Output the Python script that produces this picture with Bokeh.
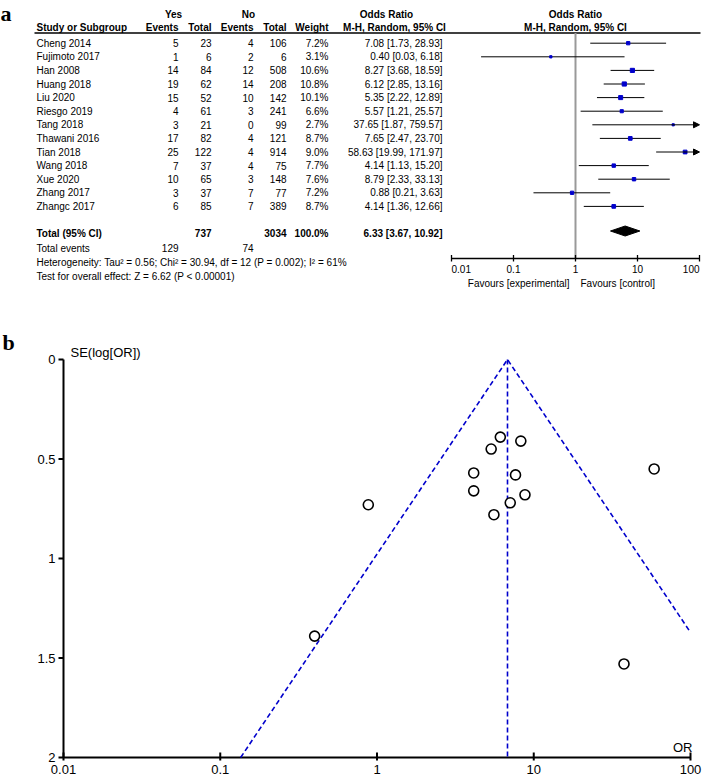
import math
from bokeh.plotting import figure
from bokeh.models import Range1d, LogScale, LinearScale, ColumnDataSource, Arrow, NormalHead
from bokeh.core.properties import value
from bokeh.embed import file_html
from bokeh.resources import INLINE

# ---------------- data ----------------
studies = ["Cheng 2014", "Fujimoto 2017", "Han 2008", "Huang 2018", "Liu 2020", "Riesgo 2019",
           "Tang 2018", "Thawani 2016", "Tian 2018", "Wang 2018", "Xue 2020", "Zhang 2017", "Zhangc 2017"]
yes_events = [5, 1, 14, 19, 15, 4, 3, 17, 25, 7, 10, 3, 6]
yes_total = [23, 6, 84, 62, 52, 61, 21, 82, 122, 37, 65, 37, 85]
no_events = [4, 2, 12, 14, 10, 3, 0, 4, 4, 4, 3, 7, 7]
no_total = [106, 6, 508, 208, 142, 241, 99, 121, 914, 75, 148, 77, 389]
weights = [7.2, 3.1, 10.6, 10.8, 10.1, 6.6, 2.7, 8.7, 9.0, 7.7, 7.6, 7.2, 8.7]
odds = [7.08, 0.40, 8.27, 6.12, 5.35, 5.57, 37.65, 7.65, 58.63, 4.14, 8.79, 0.88, 4.14]
ci_low = [1.73, 0.03, 3.68, 2.85, 2.22, 1.21, 1.87, 2.47, 19.99, 1.13, 2.33, 0.21, 1.36]
ci_high = [28.93, 6.18, 18.59, 13.16, 12.89, 25.57, 759.57, 23.70, 171.97, 15.20, 33.13, 3.63, 12.66]
funnel_se = [0.72, 1.39, 0.41, 0.39, 0.45, 0.78, 1.53, 0.58, 0.55, 0.66, 0.68, 0.73, 0.57]

total_or, total_low, total_high = 6.33, 3.67, 10.92
total_yes_events, total_yes, total_no_events, total_no = 129, 737, 74, 3034
heterogeneity_text = "Heterogeneity: Tau\u00b2 = 0.56; Chi\u00b2 = 30.94, df = 12 (P = 0.002); I\u00b2 = 61%"
overall_text = "Test for overall effect: Z = 6.62 (P < 0.00001)"

forest_ticks = [0.01, 0.1, 1, 10, 100]
forest_tick_labels = ["0.01", "0.1", "1", "10", "100"]

funnel_center = 6.8
funnel_x_ticks = [0.01, 0.1, 1, 10, 100]
funnel_x_labels = ["0.01", "0.1", "1", "10", "100"]
funnel_y_ticks = [0, 0.5, 1, 1.5, 2]
funnel_y_labels = ["0", "0.5", "1", "1.5", "2"]

# ---------------- layout constants (canvas pixels) ----------------
W, H = 712, 776
FONT = "Liberation Sans"
ROW0, ROW_H = 42.7, 13.6            # first study row, row pitch
FX0, FX1 = 451.0, 699.0             # forest axis 0.01 .. 100
GX0, GX1 = 63.0, 690.0              # funnel x axis 0.01 .. 100
GY0, GY1 = 359.0, 757.0             # funnel y axis 0 .. 2


def row_of(py):
    return (py - ROW0) / ROW_H


p = figure(width=W, height=H, output_backend="svg", toolbar_location=None,
           x_range=Range1d(0, W), y_range=Range1d(H, 0),
           x_axis_location=None, y_axis_location=None, min_border=0)
p.grid.visible = False
p.outline_line_color = None

# forest scales
f_lo, f_hi = forest_ticks[0], forest_ticks[-1]
f_dec = (FX1 - FX0) / math.log10(f_hi / f_lo)
p.extra_x_ranges["or"] = Range1d(f_lo * 10 ** (-FX0 / f_dec), f_hi * 10 ** ((W - FX1) / f_dec))
p.extra_x_scales["or"] = LogScale()
p.extra_y_ranges["rows"] = Range1d(row_of(H), row_of(0))
p.extra_y_scales["rows"] = LinearScale()

# funnel scales
g_lo, g_hi = funnel_x_ticks[0], funnel_x_ticks[-1]
g_dec = (GX1 - GX0) / math.log10(g_hi / g_lo)
se_max = funnel_y_ticks[-1]
g_pu = (GY1 - GY0) / se_max
p.extra_x_ranges["fx"] = Range1d(g_lo * 10 ** (-GX0 / g_dec), g_hi * 10 ** ((W - GX1) / g_dec))
p.extra_x_scales["fx"] = LogScale()
p.extra_y_ranges["fy"] = Range1d((H - GY0) / g_pu, -GY0 / g_pu)
p.extra_y_scales["fy"] = LinearScale()


def gx(px):
    return g_lo * 10 ** ((px - GX0) / g_dec)


def gy(py):
    return (py - GY0) / g_pu


def txt(x, y, s, align="left", bold=False, size="10px", font=FONT, baseline="middle",
        yr="rows", **kw):
    p.text(x=[x], y=[y], text=[s], text_align=align, text_baseline=baseline,
           text_font=value(font), text_font_size=size, y_range_name=yr,
           text_font_style="bold" if bold else "normal", text_color="black", **kw)


# ================= panel a =================
COL_STUDY, COL_YE, COL_YT, COL_NE, COL_NT, COL_W, COL_OR = 36, 178, 211, 253, 286, 328, 442

h1, h2 = row_of(14), row_of(27)
txt(173, h1, "Yes", "center", True)
txt(248, h1, "No", "center", True)
txt(386, h1, "Odds Ratio", "center", True)
txt(1, h1, "Odds Ratio", "center", True, x_range_name="or")
txt(COL_STUDY, h2, "Study or Subgroup", "left", True)
txt(COL_YE, h2, "Events", "right", True)
txt(COL_YT, h2, "Total", "right", True)
txt(COL_NE, h2, "Events", "right", True)
txt(COL_NT, h2, "Total", "right", True)
txt(COL_W, h2, "Weight", "right", True)
txt(394, h2, "M-H, Random, 95% CI", "center", True)
txt(1, h2, "M-H, Random, 95% CI", "center", True, x_range_name="or")
UL = row_of(32.5)
p.segment(x0=[34], x1=[700], y0=[UL], y1=[UL], y_range_name="rows", line_color="black", line_width=1.5)

rows = list(range(len(studies)))
tbl = ColumnDataSource(dict(
    row=rows, study=studies,
    ye=[str(v) for v in yes_events], yt=[str(v) for v in yes_total],
    ne=[str(v) for v in no_events], nt=[str(v) for v in no_total],
    wt=[f"{w:.1f}%" for w in weights],
    ort=[f"{o:.2f} [{l:.2f}, {h:.2f}]" for o, l, h in zip(odds, ci_low, ci_high)],
))
for col, x, al in [("study", COL_STUDY, "left"), ("ye", COL_YE, "right"), ("yt", COL_YT, "right"),
                   ("ne", COL_NE, "right"), ("nt", COL_NT, "right"), ("wt", COL_W, "right"),
                   ("ort", COL_OR, "right")]:
    p.text(x=x, y="row", text=col, source=tbl, text_align=al, text_baseline="middle",
           y_range_name="rows", text_font=value(FONT), text_font_size="10px", text_color="black")

TOTAL_ROW = row_of(232.5)
txt(COL_STUDY, TOTAL_ROW, "Total (95% CI)", "left", True)
txt(COL_YT, TOTAL_ROW, str(total_yes), "right", True)
txt(COL_NT, TOTAL_ROW, str(total_no), "right", True)
txt(COL_W, TOTAL_ROW, f"{sum(weights):.1f}%", "right", True)
txt(COL_OR, TOTAL_ROW, f"{total_or:.2f} [{total_low:.2f}, {total_high:.2f}]", "right", True)
EV_ROW = row_of(247.7)
txt(COL_STUDY, EV_ROW, "Total events")
txt(COL_YE, EV_ROW, str(total_yes_events), "right")
txt(COL_NE, EV_ROW, str(total_no_events), "right")
txt(COL_STUDY, row_of(261.7), heterogeneity_text)
txt(COL_STUDY, row_of(275.7), overall_text)

AXIS_ROW = row_of(258)
p.segment(x0=[1], x1=[1], y0=[UL], y1=[AXIS_ROW], x_range_name="or", y_range_name="rows",
          line_color="#999999", line_width=2)

inside = [i for i in rows if ci_high[i] <= f_hi]
clipped = [i for i in rows if ci_high[i] > f_hi]
p.segment(x0=[ci_low[i] for i in inside], x1=[ci_high[i] for i in inside],
          y0=inside, y1=inside, x_range_name="or", y_range_name="rows", line_color="black", line_width=1)
arr_src = ColumnDataSource(dict(x0=[ci_low[i] for i in clipped], x1=[f_hi] * len(clipped), row=clipped))
p.add_layout(Arrow(end=NormalHead(size=6, fill_color="black", line_color="black"),
                   x_start="x0", y_start="row", x_end="x1", y_end="row", source=arr_src,
                   x_range_name="or", y_range_name="rows", line_color="black", line_width=1))
sq = ColumnDataSource(dict(orv=odds, row=rows, sz=[1.5 + 0.25 * w for w in weights]))
p.scatter(x="orv", y="row", size="sz", marker="square", source=sq, x_range_name="or",
          y_range_name="rows", fill_color="#0000CC", line_color="#0000CC")
dh = 5 / ROW_H
DIA_ROW = row_of(230.5)
p.patch(x=[total_low, total_or, total_high, total_or],
        y=[DIA_ROW, DIA_ROW - dh, DIA_ROW, DIA_ROW + dh],
        x_range_name="or", y_range_name="rows", fill_color="black", line_color="black")

p.segment(x0=[f_lo], x1=[f_hi], y0=[AXIS_ROW], y1=[AXIS_ROW],
          x_range_name="or", y_range_name="rows", line_color="black", line_width=1.3)
p.segment(x0=forest_ticks, x1=forest_ticks, y0=[row_of(254.5)] * 5, y1=[row_of(261)] * 5,
          x_range_name="or", y_range_name="rows", line_color="black", line_width=1.3)
TL_ROW = row_of(268.5)
txt(forest_ticks[0], TL_ROW, forest_tick_labels[0], "left", x_range_name="or")
p.text(x=forest_ticks[1:-1], y=[TL_ROW] * 3, text=forest_tick_labels[1:-1], x_range_name="or",
       y_range_name="rows", text_align="center", text_baseline="middle", text_font=value(FONT),
       text_font_size="10px", text_color="black")
txt(forest_ticks[-1], TL_ROW, forest_tick_labels[-1], "right", x_range_name="or")
FAV_ROW = row_of(283)
txt(1, FAV_ROW, "Favours [experimental]", "right", x_range_name="or", x_offset=-6)
txt(1, FAV_ROW, "Favours [control]", "left", x_range_name="or", x_offset=5)

txt(0, 13, "a", "left", True, size="22px", font="Liberation Serif", baseline="alphabetic", yr="default")

# ================= panel b =================
txt(2, 342, "b", "left", True, size="22px", font="Liberation Serif", baseline="alphabetic", yr="default")

# axes
p.segment(x0=[g_lo], x1=[g_hi], y0=[se_max], y1=[se_max], x_range_name="fx", y_range_name="fy",
          line_color="black", line_width=2)
p.segment(x0=[g_lo], x1=[g_lo], y0=[0], y1=[se_max], x_range_name="fx", y_range_name="fy",
          line_color="black", line_width=2)
n_x = len(funnel_x_ticks)
p.segment(x0=funnel_x_ticks, x1=funnel_x_ticks, y0=[gy(GY1 - 5)] * n_x, y1=[gy(GY1 + 3)] * n_x,
          x_range_name="fx", y_range_name="fy", line_color="black", line_width=2)
n_y = len(funnel_y_ticks)
p.segment(x0=[gx(GX0 - 5)] * n_y, x1=[g_lo] * n_y, y0=funnel_y_ticks, y1=funnel_y_ticks,
          x_range_name="fx", y_range_name="fy", line_color="black", line_width=2)
p.text(x=funnel_x_ticks, y=[gy(GY1 + 12)] * n_x, text=funnel_x_labels, x_range_name="fx",
       y_range_name="fy", text_align="center", text_baseline="middle", text_font=value(FONT),
       text_font_size="13px", text_color="black")
p.text(x=[gx(GX0 - 8)] * n_y, y=funnel_y_ticks, text=funnel_y_labels, x_range_name="fx",
       y_range_name="fy", text_align="right", text_baseline="middle", text_font=value(FONT),
       text_font_size="13px", text_color="black")
txt(gx(GX0 + 7), 0, "SE(log[OR])", "left", size="13px", baseline="bottom", yr="fy", x_range_name="fx")
txt(gx(GX1 + 2), gy(GY1 - 3), "OR", "right", size="13px", baseline="bottom", yr="fy", x_range_name="fx")

# funnel lines
c = funnel_center
xl = c * math.exp(-1.96 * se_max)
se_r = min(se_max, math.log(g_hi / c) / 1.96)
xr = c * math.exp(1.96 * se_r)
p.line(x=[xl, c, xr], y=[se_max, 0, se_r], x_range_name="fx", y_range_name="fy",
       line_color="#0000CC", line_dash="5 3", line_width=1.6)
p.line(x=[c, c], y=[0, se_max], x_range_name="fx", y_range_name="fy",
       line_color="#0000CC", line_dash="5 3", line_width=1.6)
p.scatter(x=odds, y=funnel_se, size=10, marker="circle", x_range_name="fx", y_range_name="fy",
          fill_color="white", line_color="black", line_width=1.6)

open("out.html", "w").write(file_html(p, INLINE))
